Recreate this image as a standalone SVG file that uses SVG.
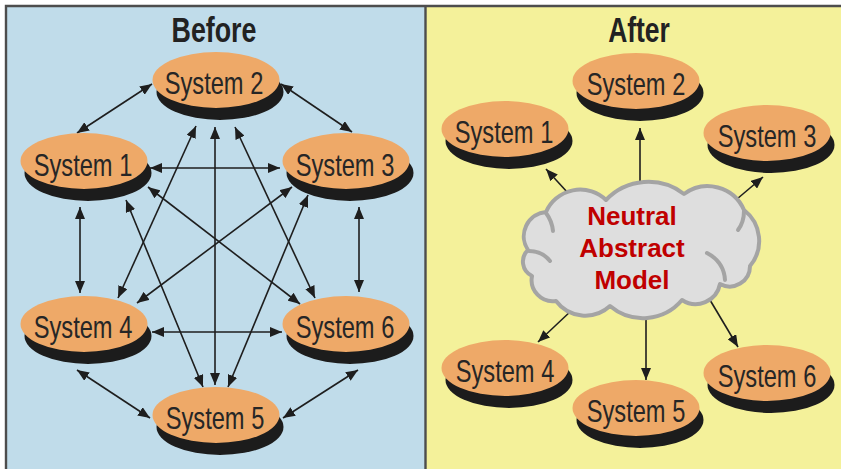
<svg xmlns="http://www.w3.org/2000/svg" width="841" height="469" viewBox="0 0 841 469">
  <style>
    .panel-b { fill: #C0DCEA; }
    .panel-a { fill: #F4F19A; }
    .frame { stroke: #4d4d4d; stroke-width: 2.4; fill: none; }
    .face { fill: #EEA968; }
    .rim { fill: #1c1c1c; }
    .lbl { font-family: "Liberation Sans", Arial, sans-serif; font-size: 32px; fill: #262626; text-anchor: middle; }
    .title { font-family: "Liberation Sans", Arial, sans-serif; font-size: 35px; font-weight: bold; fill: #222222; text-anchor: middle; }
    .link { stroke: #1e1e1e; stroke-width: 1.6; fill: none; }
    .cloud { fill: #DEDEDE; stroke: #A4A4A4; stroke-width: 4; stroke-linejoin: round; }
    .wisp { fill: none; stroke: #A4A4A4; stroke-width: 4; stroke-linecap: round; }
    .core { font-family: "Liberation Sans", Arial, sans-serif; font-size: 26px; font-weight: bold; fill: #C00000; text-anchor: middle; }
  </style>
  <defs>
    <marker id="ah" viewBox="0 0 12 10" refX="12" refY="5" markerWidth="12" markerHeight="10" markerUnits="userSpaceOnUse" orient="auto-start-reverse">
      <path d="M0,0 L12,5 L0,10 z" fill="#1e1e1e"/>
    </marker>
  </defs>

  <!-- panels -->
  <rect x="0" y="0" width="841" height="469" fill="#ffffff"/>
  <rect class="panel-b" x="6" y="6" width="419.5" height="463"/>
  <rect class="panel-a" x="425.5" y="6" width="415.5" height="463"/>
  <path class="frame" d="M6,469 V6 H841 M425.5,6 V469"/>

  <!-- condensed headings -->
  <text class="title" transform="translate(214,42) scale(0.766,1)">Before</text>
  <text class="title" transform="translate(639,42) scale(0.756,1)">After</text>

  <!-- point-to-point links (every pair of systems) -->
  <g id="links-before">
    <line class="link" marker-start="url(#ah)" marker-end="url(#ah)" x1="77" y1="133" x2="152" y2="84"/>
    <line class="link" marker-start="url(#ah)" marker-end="url(#ah)" x1="281" y1="84" x2="352" y2="132"/>
    <line class="link" marker-start="url(#ah)" marker-end="url(#ah)" x1="150" y1="168" x2="280" y2="168"/>
    <line class="link" marker-start="url(#ah)" marker-end="url(#ah)" x1="152" y1="332" x2="282" y2="332"/>
    <line class="link" marker-start="url(#ah)" marker-end="url(#ah)" x1="80" y1="207" x2="80" y2="293"/>
    <line class="link" marker-start="url(#ah)" marker-end="url(#ah)" x1="359" y1="207" x2="359" y2="292"/>
    <line class="link" marker-start="url(#ah)" marker-end="url(#ah)" x1="77" y1="370" x2="150" y2="418"/>
    <line class="link" marker-start="url(#ah)" marker-end="url(#ah)" x1="283" y1="418" x2="358" y2="370"/>
    <line class="link" marker-start="url(#ah)" marker-end="url(#ah)" x1="215" y1="127" x2="215" y2="385"/>
    <line class="link" marker-start="url(#ah)" marker-end="url(#ah)" x1="196" y1="126" x2="118" y2="298"/>
    <line class="link" marker-start="url(#ah)" marker-end="url(#ah)" x1="235" y1="127" x2="315" y2="298"/>
    <line class="link" marker-start="url(#ah)" marker-end="url(#ah)" x1="148" y1="187" x2="300" y2="304"/>
    <line class="link" marker-start="url(#ah)" marker-end="url(#ah)" x1="126" y1="200" x2="203" y2="387"/>
    <line class="link" marker-start="url(#ah)" marker-end="url(#ah)" x1="292" y1="187" x2="137" y2="303"/>
    <line class="link" marker-start="url(#ah)" marker-end="url(#ah)" x1="308" y1="195" x2="228" y2="387"/>
  </g>

  <!-- hub links from the model -->
  <g id="links-after">
    <line class="link" marker-end="url(#ah)" x1="568" y1="193" x2="546" y2="169"/>
    <line class="link" marker-end="url(#ah)" x1="640" y1="190" x2="640" y2="128"/>
    <line class="link" marker-end="url(#ah)" x1="737" y1="199" x2="763" y2="177"/>
    <line class="link" marker-end="url(#ah)" x1="572" y1="310" x2="538" y2="342"/>
    <line class="link" marker-end="url(#ah)" x1="646" y1="318" x2="646" y2="380"/>
    <line class="link" marker-end="url(#ah)" x1="710" y1="300" x2="738" y2="347"/>
  </g>

  <!-- systems, before -->
  <g id="b-sys1"><ellipse class="rim" cx="88" cy="173" rx="63.5" ry="28"/><ellipse class="face" cx="84" cy="161" rx="63.5" ry="28"/><text class="lbl" transform="translate(83,176) scale(0.74,1)">System 1</text></g>
  <g id="b-sys2"><ellipse class="rim" cx="220" cy="92" rx="63.5" ry="28"/><ellipse class="face" cx="216" cy="80" rx="63.5" ry="28"/><text class="lbl" transform="translate(214,94) scale(0.74,1)">System 2</text></g>
  <g id="b-sys3"><ellipse class="rim" cx="350" cy="173" rx="63.5" ry="28"/><ellipse class="face" cx="346" cy="161" rx="63.5" ry="28"/><text class="lbl" transform="translate(345,176) scale(0.74,1)">System 3</text></g>
  <g id="b-sys4"><ellipse class="rim" cx="88" cy="336" rx="63.5" ry="28"/><ellipse class="face" cx="84" cy="324" rx="63.5" ry="28"/><text class="lbl" transform="translate(83,338) scale(0.74,1)">System 4</text></g>
  <g id="b-sys5"><ellipse class="rim" cx="220" cy="427" rx="63.5" ry="28"/><ellipse class="face" cx="216" cy="415" rx="63.5" ry="28"/><text class="lbl" transform="translate(215,429) scale(0.74,1)">System 5</text></g>
  <g id="b-sys6"><ellipse class="rim" cx="350" cy="336" rx="63.5" ry="28"/><ellipse class="face" cx="346" cy="324" rx="63.5" ry="28"/><text class="lbl" transform="translate(345,338) scale(0.74,1)">System 6</text></g>

  <!-- systems, after -->
  <g id="a-sys1"><ellipse class="rim" cx="509" cy="141" rx="63.5" ry="28"/><ellipse class="face" cx="505" cy="129" rx="63.5" ry="28"/><text class="lbl" transform="translate(504,143) scale(0.74,1)">System 1</text></g>
  <g id="a-sys2"><ellipse class="rim" cx="640" cy="93" rx="63.5" ry="28"/><ellipse class="face" cx="636" cy="81" rx="63.5" ry="28"/><text class="lbl" transform="translate(636,95) scale(0.74,1)">System 2</text></g>
  <g id="a-sys3"><ellipse class="rim" cx="771" cy="145" rx="63.5" ry="28"/><ellipse class="face" cx="767" cy="133" rx="63.5" ry="28"/><text class="lbl" transform="translate(767,147) scale(0.74,1)">System 3</text></g>
  <g id="a-sys4"><ellipse class="rim" cx="509" cy="380" rx="63.5" ry="28"/><ellipse class="face" cx="505" cy="368" rx="63.5" ry="28"/><text class="lbl" transform="translate(505,382) scale(0.74,1)">System 4</text></g>
  <g id="a-sys5"><ellipse class="rim" cx="640" cy="420" rx="63.5" ry="28"/><ellipse class="face" cx="636" cy="408" rx="63.5" ry="28"/><text class="lbl" transform="translate(636,422) scale(0.74,1)">System 5</text></g>
  <g id="a-sys6"><ellipse class="rim" cx="771" cy="385" rx="63.5" ry="28"/><ellipse class="face" cx="767" cy="373" rx="63.5" ry="28"/><text class="lbl" transform="translate(767,387) scale(0.74,1)">System 6</text></g>

  <!-- central model cloud -->
  <g id="model">
    <path class="cloud" d="M528,250 A24.4,24.4 0 0 1 546,212 A37.3,37.3 0 0 1 606,200 A58.5,58.5 0 0 1 684,194 A39.6,39.6 0 0 1 744,210 A39,39 0 0 1 750,266 A20.3,20.3 0 0 1 720,284 A24.8,24.8 0 0 1 682,300 A51,51 0 0 1 610,306 A36.6,36.6 0 0 1 556,301 A21.2,21.2 0 0 1 532,276 A15.9,15.9 0 0 1 528,250 Z"/>
    <path class="wisp" d="M546,213 Q552,221 553,231"/>
    <path class="wisp" d="M529,251 Q542,251 550,261"/>
    <path class="wisp" d="M725,280 Q724,262 707,253"/>
    <path class="wisp" d="M744,211 Q744,222 738,230"/>
    <text class="core" x="632" y="225">Neutral</text>
    <text class="core" x="632" y="257">Abstract</text>
    <text class="core" x="632" y="289">Model</text>
  </g>
</svg>
